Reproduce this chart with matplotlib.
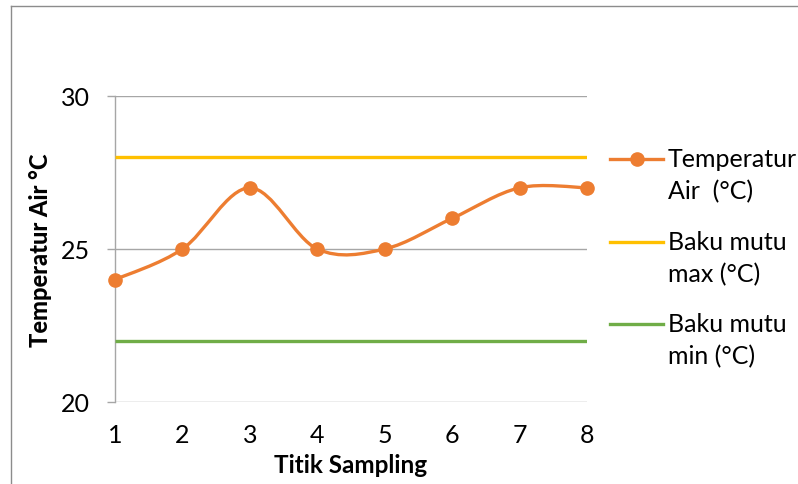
import numpy as np
import matplotlib
matplotlib.use('Agg')
import matplotlib.pyplot as plt
from matplotlib.path import Path
from matplotlib.patches import PathPatch
from matplotlib.lines import Line2D

plt.rcParams['font.family'] = ['Lato', 'DejaVu Sans']

# Water temperature per sampling point and the quality limits
titik = [1, 2, 3, 4, 5, 6, 7, 8]
suhu_air = [24, 25, 27, 25, 25, 26, 27, 27]
baku_max = [28, 28, 28, 28, 28, 28, 28, 28]
baku_min = [22, 22, 22, 22, 22, 22, 22, 22]

ORANGE = '#ED7D31'
YELLOW = '#FFC000'
GREEN = '#70AD47'
GRID = '#A6A6A6'

W, H = 798, 485
fig = plt.figure(figsize=(W / 100, H / 100), dpi=100)
ax = fig.add_axes([115 / W, 1 - 403 / H, (587 - 115) / W, (403 - 97) / H])


def smooth_path(x, y):
    """Cubic Bezier path through the points (Catmull-Rom style smoothing)."""
    pts = np.column_stack([x, y]).astype(float)
    ext = np.vstack([pts[0], pts, pts[-1]])
    verts = [pts[0]]
    codes = [Path.MOVETO]
    for i in range(len(pts) - 1):
        p0, p1, p2, p3 = ext[i], ext[i + 1], ext[i + 2], ext[i + 3]
        verts += [p1 + (p2 - p0) / 6, p2 - (p3 - p1) / 6, p2]
        codes += [Path.CURVE4] * 3
    return Path(verts, codes)


ax.plot(titik, baku_max, color=YELLOW, lw=2.4, solid_capstyle='butt', zorder=3)
ax.plot(titik, baku_min, color=GREEN, lw=2.4, solid_capstyle='butt', zorder=3)
ax.add_patch(PathPatch(smooth_path(titik, suhu_air), facecolor='none',
                       edgecolor=ORANGE, lw=2.4, zorder=4, clip_on=False))
ax.plot(titik, suhu_air, 'o', color=ORANGE, ms=9.5, zorder=5, clip_on=False)

ax.set_xlim(1, 8)
ax.set_ylim(20, 30)
ax.set_yticks([20, 25, 30])
ax.set_xticks(titik)

for s in ['top', 'right', 'bottom']:
    ax.spines[s].set_visible(False)
ax.spines['left'].set_color(GRID)
ax.spines['left'].set_linewidth(1.0)
ax.grid(axis='y', color=GRID, lw=1.0)
ax.set_axisbelow(True)

ax.tick_params(axis='y', length=6, width=1.0, color=GRID, pad=12,
               labelsize=18, labelcolor='black')
ax.tick_params(axis='x', length=0, pad=15, labelsize=18, labelcolor='black')

ax.set_xlabel('Titik Sampling', fontsize=17.5, fontweight='bold', labelpad=5)
ax.set_ylabel('Temperatur Air °C', fontsize=17, fontweight='black')
ax.yaxis.set_label_coords(41 / W, 1 - 250 / H, transform=fig.transFigure)
ax.yaxis.label.set_va('center')

# legend drawn beside the plot, handle level with the first text line
legend_items = [
    (ORANGE, True, ['Temperatur', 'Air  (°C)'], 160),
    (YELLOW, False, ['Baku mutu', 'max (°C)'], 243),
    (GREEN, False, ['Baku mutu', 'min (°C)'], 325),
]
for color, marker, lines, ypx in legend_items:
    yf = 1 - ypx / H
    fig.add_artist(Line2D([610 / W, 663 / W], [yf, yf], color=color, lw=2.4,
                          transform=fig.transFigure))
    if marker:
        fig.add_artist(Line2D([637 / W], [yf], marker='o', ms=9.5, color=color,
                              transform=fig.transFigure))
    for k, txt in enumerate(lines):
        fig.text(668 / W, 1 - (ypx + 32 * k) / H, txt, fontsize=18,
                 va='center', ha='left')

# chart frame
frame = dict(color='#8C8C8C', lw=1.0, transform=fig.transFigure)
fig.add_artist(Line2D([11 / W, 11 / W], [0, 1 - 7 / H], **frame))
fig.add_artist(Line2D([11 / W, 1], [1 - 7 / H, 1 - 7 / H], **frame))

fig.savefig('out.png', dpi=100)
